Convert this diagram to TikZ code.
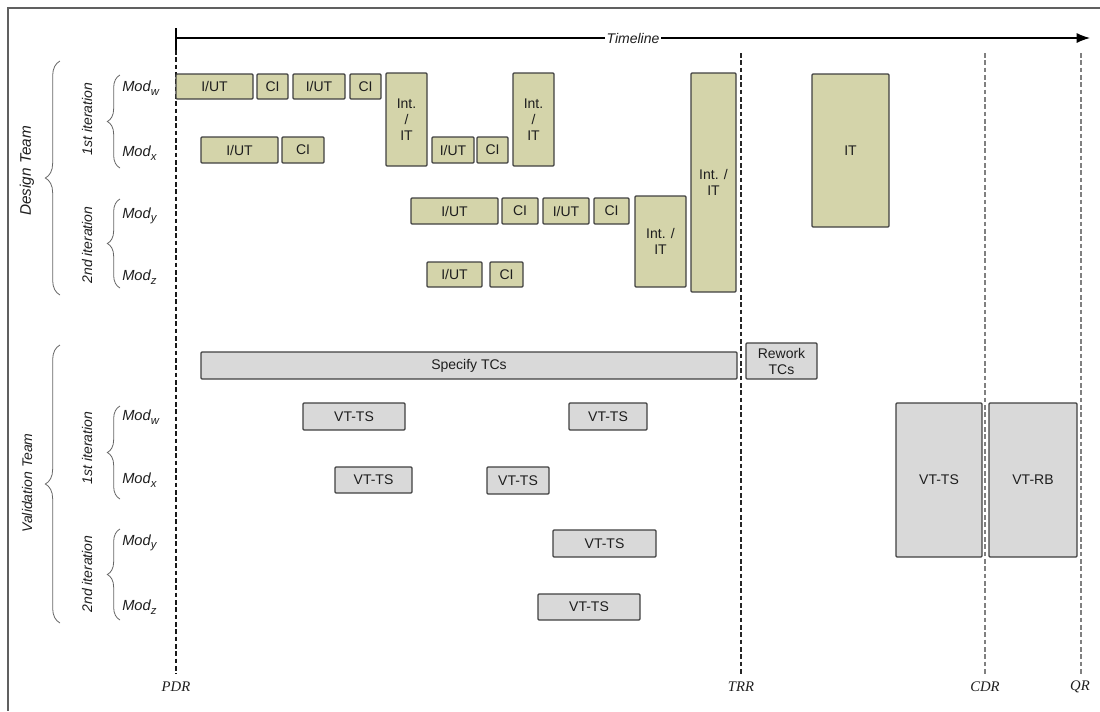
\documentclass[tikz,border=0pt]{standalone}
\usepackage{fontspec}
\setmainfont{Liberation Sans}
\newfontfamily\tms{Liberation Serif}
\usetikzlibrary{arrows.meta,decorations.pathreplacing}
\definecolor{dolive}{HTML}{D4D4AA}
\definecolor{vgray}{HTML}{D9D9D9}
\definecolor{boxline}{HTML}{404040}
\definecolor{txt}{HTML}{1E1E1E}
\newcommand\tbox[7]{\node[#1,minimum width={(#4-#2)*0.75pt},minimum height={(#5-#3)*0.75pt}] (#6) at ({(#2+#4)/2},{(#3+#5)/2}) {#7};}
\newcommand\modsub[1]{Mod\raisebox{-0.45ex}{\fontsize{8.5}{10}\selectfont #1}}
\begin{document}
\begin{tikzpicture}[x=0.75pt,y=-0.75pt,
  box/.style={draw=boxline, line width=0.9pt, rounded corners=0.8pt, inner sep=0pt, align=center, text=txt, font=\fontsize{10.5}{12}\selectfont},
  dbox/.style={box, fill=dolive},
  vbox/.style={box, fill=vgray},
  msline/.style={dash pattern=on 3.5pt off 2pt, line width=0.8pt},
  mslab/.style={font=\tms\itshape\fontsize{11}{12}\selectfont, text=txt, inner sep=0pt},
  modlab/.style={font=\itshape\fontsize{11}{12}\selectfont, text=txt, inner sep=0pt, anchor=west},
  rotlab/.style={font=\itshape\fontsize{10.5}{12}\selectfont, text=txt, inner sep=0pt, rotate=90},
  brc/.style={decorate, decoration={brace, amplitude=#1}, draw=gray!80!black, line width=0.6pt},
  frame/.style={draw=gray!75!black, line width=1.1pt}
]
\useasboundingbox (0,0) rectangle (1100,711);
% frame
\draw[frame] (1100,8) -- (8,8) -- (8,711);

% timeline
\coordinate (tl0) at (176,38);
\coordinate (tl1) at (1090,38);
\coordinate (tk0) at (176,28);
\coordinate (tk1) at (176,50);
\draw[line width=0.9pt] (tk0) -- (tk1);
\draw[line width=0.9pt, -{Latex[length=10pt,width=7.5pt]}] (tl0) -- node[pos=0.5, fill=white, inner sep=1.5pt, font=\itshape\fontsize{10.5}{12}\selectfont, text=txt] (tlab) {Timeline} (tl1);

% milestones
\node[mslab] (pdr) at (176,687) {PDR};
\node[mslab] (trr) at (741,687) {TRR};
\node[mslab] (cdr) at (985,687) {CDR};
\node[mslab] (qr) at (1080,687) {QR};
\coordinate (pdrT) at (176,50);  \coordinate (pdrB) at (176,674);
\coordinate (trrT) at (741,53);  \coordinate (trrB) at (741,675);
\coordinate (cdrT) at (985,53);  \coordinate (cdrB) at (985,675);
\coordinate (qrT) at (1081,53);  \coordinate (qrB) at (1081,675);
\draw[msline, draw=black!90] (pdrT) -- (pdrB);
\draw[msline, draw=black!85] (trrT) -- (trrB);
\draw[msline, draw=gray, line width=1.1pt] (cdrT) -- (cdrB);
\draw[msline, draw=gray, line width=1.1pt] (qrT) -- (qrB);

% braces and labels: design team
\draw[brc=11pt] (60,295) -- (60,61);
\node[rotlab, font=\itshape\fontsize{11.5}{12}\selectfont] (dteam) at (27,171) {Design Team};
\draw[brc=9.5pt] (120,168) -- (120,75);
\draw[brc=9.5pt] (120,288) -- (120,199);
\node[rotlab] (dit1) at (87,119) {1st iteration};
\node[rotlab] (dit2) at (87,245) {2nd iteration};
\node[modlab] (dw) at (122,88) {\modsub{w}};
\node[modlab] (dx) at (122,153) {\modsub{x}};
\node[modlab] (dy) at (122,216) {\modsub{y}};
\node[modlab] (dz) at (122,277) {\modsub{z}};

% braces and labels: validation team
\draw[brc=11pt] (60,623) -- (60,345);
\node[rotlab] (vteam) at (27,483) {Validation Team};
\draw[brc=9.5pt] (120,499) -- (120,406);
\draw[brc=9.5pt] (120,620) -- (120,529);
\node[rotlab] (vit1) at (87,448) {1st iteration};
\node[rotlab] (vit2) at (87,574) {2nd iteration};
\node[modlab] (vw) at (122,417) {\modsub{w}};
\node[modlab] (vx) at (122,480) {\modsub{x}};
\node[modlab] (vy) at (122,543) {\modsub{y}};
\node[modlab] (vz) at (122,607) {\modsub{z}};

% design boxes
\tbox{dbox}{176}{74}{253}{99}{d1}{I/UT}
\tbox{dbox}{257}{74}{288}{99}{d2}{CI}
\tbox{dbox}{293}{74}{345}{99}{d3}{I/UT}
\tbox{dbox}{350}{74}{381}{99}{d4}{CI}
\tbox{dbox}{386}{73}{427}{166}{d5}{Int.\\/\\IT}
\tbox{dbox}{201}{137}{278}{163}{d6}{I/UT}
\tbox{dbox}{282}{137}{324}{163}{d7}{CI}
\tbox{dbox}{432}{137}{474}{163}{d8}{I/UT}
\tbox{dbox}{477}{137}{508}{163}{d9}{CI}
\tbox{dbox}{513}{73}{554}{166}{d10}{Int.\\/\\IT}
\tbox{dbox}{411}{198}{498}{224}{d11}{I/UT}
\tbox{dbox}{502}{198}{538}{224}{d12}{CI}
\tbox{dbox}{543}{198}{589}{224}{d13}{I/UT}
\tbox{dbox}{594}{198}{629}{224}{d14}{CI}
\tbox{dbox}{635}{196}{686}{287}{d15}{Int. /\\IT}
\tbox{dbox}{427}{262}{482}{287}{d16}{I/UT}
\tbox{dbox}{490}{262}{523}{287}{d17}{CI}
\tbox{dbox}{691}{73}{736}{292}{d18}{Int. /\\IT}
\tbox{dbox}{812}{74}{889}{227}{d19}{IT}

% validation boxes
\tbox{vbox}{201}{352}{737}{379}{v1}{Specify TCs}
\tbox{vbox}{746}{343}{817}{379}{v2}{Rework\\TCs}
\tbox{vbox}{303}{403}{405}{430}{v3}{VT-TS}
\tbox{vbox}{569}{403}{647}{430}{v4}{VT-TS}
\tbox{vbox}{335}{467}{412}{493}{v5}{VT-TS}
\tbox{vbox}{487}{467}{549}{494}{v6}{VT-TS}
\tbox{vbox}{553}{530}{656}{557}{v7}{VT-TS}
\tbox{vbox}{538}{594}{640}{620}{v8}{VT-TS}
\tbox{vbox}{896}{403}{982}{557}{v9}{VT-TS}
\tbox{vbox}{989}{403}{1077}{557}{v10}{VT-RB}
\end{tikzpicture}
\end{document}
